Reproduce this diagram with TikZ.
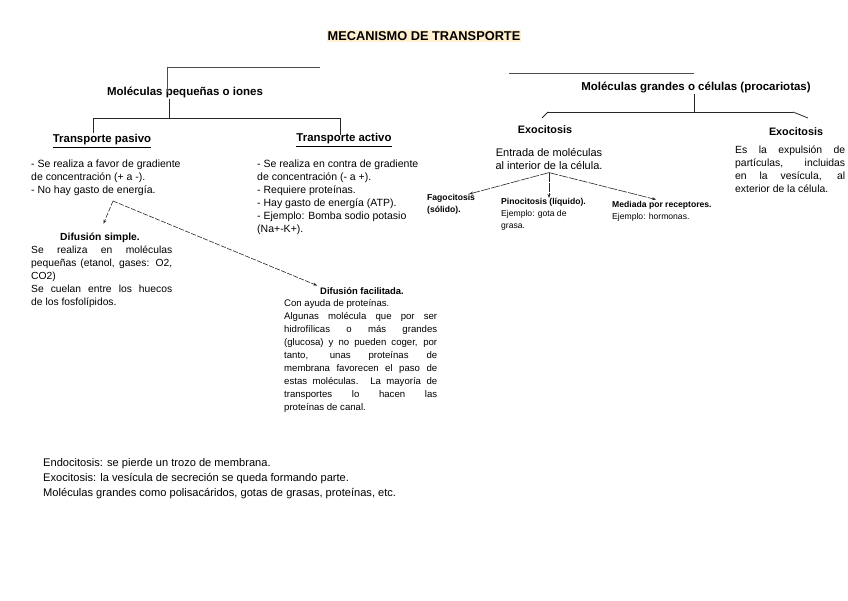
\documentclass[tikz,border=0pt]{standalone}
\usepackage{fontspec}
\setmainfont{Liberation Sans}
\usepackage{xcolor}
\usetikzlibrary{arrows.meta,positioning}
\definecolor{hilite}{HTML}{FFF0D2}
\newcommand{\jl}[2][141pt]{\makebox[#1][s]{#2}}

\begin{document}
\begin{tikzpicture}[
    x=1pt, y=-1pt,
    title/.style={fill=hilite, inner sep=1pt, font=\fontsize{12.8}{15}\selectfont\bfseries},
    head/.style={inner sep=1pt, font=\fontsize{11.5}{14}\selectfont\bfseries},
    sub/.style={inner sep=1pt, font=\fontsize{10.8}{13}\selectfont\bfseries},
    txt/.style={inner sep=0pt, anchor=north west, align=left,
                font=\fontsize{10.5}{13}\selectfont},
    small/.style={inner sep=0pt, anchor=north west, align=left,
                  font=\fontsize{8.6}{12}\selectfont},
    bar/.style={line width=1pt, black!70},
    tree/.style={line width=0.8pt, black!85},
    arr/.style={-{Stealth[length=4pt,width=3pt]}, line width=0.6pt, black!85,
                dash pattern=on 9pt off 1.2pt},
    dasharr/.style={-{Stealth[length=4pt,width=3pt]}, line width=0.6pt, black!85,
                    dash pattern=on 5pt off 1.5pt},
  ]
    \useasboundingbox (0,0) rectangle (848,600);

    \node[title] (T) at (424,36) {MECANISMO DE TRANSPORTE};

    % small molecules
    \node[head] (P) at (185,92) {Moléculas pequeñas o iones};
    \node[sub, font=\fontsize{11.4}{13}\selectfont\bfseries] (TP) at (102,141) {\underline{Transporte pasivo}};
    \node[sub, font=\fontsize{11.4}{13}\selectfont\bfseries] (TA) at (344,140) {\underline{Transporte activo}};
    \node[txt] (PL) at (31,160) {- Se realiza a favor de gradiente\\de concentración (+ a -).\\- No hay gasto de energía.};
    \node[txt] (AL) at (257,160) {- Se realiza en contra de gradiente\\de concentración (- a +).\\- Requiere proteínas.\\- Hay gasto de energía (ATP).\\- Ejemplo: Bomba sodio potasio\\(Na+-K+).};
    \node[font=\fontsize{10.3}{13}\selectfont\bfseries, inner sep=1pt] (DS) at (100,238) {Difusión simple.};
    \node[txt, font=\fontsize{10.3}{13}\selectfont] (DSt) at (31,246) {\jl{Se realiza en moléculas}\\\jl{pequeñas (etanol, gases: O2,}\\CO2)\\\jl{Se cuelan entre los huecos}\\de los fosfolípidos.};
    \node[font=\fontsize{9.4}{13}\selectfont\bfseries, inner sep=1pt] (DF) at (362,291) {Difusión facilitada.};
    \node[txt, font=\fontsize{9.6}{13}\selectfont] (DFt) at (284,299) {Con ayuda de proteínas.\\\jl[153pt]{Algunas molécula que por ser}\\\jl[153pt]{hidrofílicas o más grandes}\\\jl[153pt]{(glucosa) y no pueden coger, por}\\\jl[153pt]{tanto, unas proteínas de}\\\jl[153pt]{membrana favorecen el paso de}\\\jl[153pt]{estas moléculas. La mayoría de}\\\jl[153pt]{transportes lo hacen las}\\proteínas de canal.};

    % large molecules
    \node[head] (G) at (696,87) {Moléculas grandes o células (procariotas)};
    \node[sub] (EL) at (545,130) {Exocitosis};
    \node[sub] (ER) at (796,132) {Exocitosis};
    \node[inner sep=0pt, anchor=north, align=center, font=\fontsize{11}{13}\selectfont] (EN) at (549,148) {Entrada de moléculas\\al interior de la célula.};
    \node[small, font=\fontsize{8.6}{12}\selectfont\bfseries] (F) at (427,194) {Fagocitosis\\(sólido).};
    \node[small] (PI) at (501,198) {\textbf{Pinocitosis (líquido).}\\Ejemplo: gota de\\grasa.};
    \node[small] (M) at (612,201) {\textbf{Mediada por receptores.}\\Ejemplo: hormonas.};
    \node[txt, font=\fontsize{10.4}{13}\selectfont] (ERt) at (735,146) {\jl[110pt]{Es la expulsión de}\\\jl[110pt]{partículas, incluidas}\\\jl[110pt]{en la vesícula, al}\\exterior de la célula.};

    % notes
    \node[txt, font=\fontsize{11.1}{15}\selectfont] (N) at (43,458) {Endocitosis: se pierde un trozo de membrana.\\Exocitosis: la vesícula de secreción se queda formando parte.\\Moléculas grandes como polisacáridos, gotas de grasas, proteínas, etc.};

    % tree lines
    \coordinate (pa) at (167,67);
    \coordinate (pb) at (320,67);
    \coordinate (pc) at (169,118);
    \coordinate (pl) at (93,118);
    \coordinate (pr) at (340,118);
    \draw[bar] (pb) -- (pa) -- (pa |- P.center);
    \draw[tree] (P.south -| pc) -- (pc);
    \draw[tree] (pl) -- (pr);
    \draw[tree] (pl) -- (pl |- TP.north);
    \draw[tree] (pr) -- ([yshift=-3pt]pr |- TA.north);

    \coordinate (ga) at (509,73);
    \coordinate (gb) at (694,73);
    \coordinate (gc) at (694,112);
    \coordinate (gl) at (548,112);
    \coordinate (gr) at (793,112);
    \draw[bar] (ga) -- (gb);
    \draw[tree] (G.south -| gc) -- (gc);
    \draw[tree] (gl) -- (gr);
    \draw[tree] (gl) -- ++(-6,6);
    \draw[tree] (gr) -- ++(15,6);

    % arrows
    \coordinate (sp) at (113,201);
    \draw[dasharr, shorten >=9pt] (sp) -- (DS.north);
    \draw[dasharr, shorten >=2pt] (sp) -- (DF.north west);
    \draw[arr] ([yshift=-3pt]EN.south) -- ([xshift=-6pt]F.north east);
    \draw[arr] ([yshift=-3pt]EN.south) -- (EN.south |- PI.north);
    \draw[arr, shorten >=6pt] ([yshift=-3pt]EN.south) -- (M.north);
  \end{tikzpicture}
\end{document}
